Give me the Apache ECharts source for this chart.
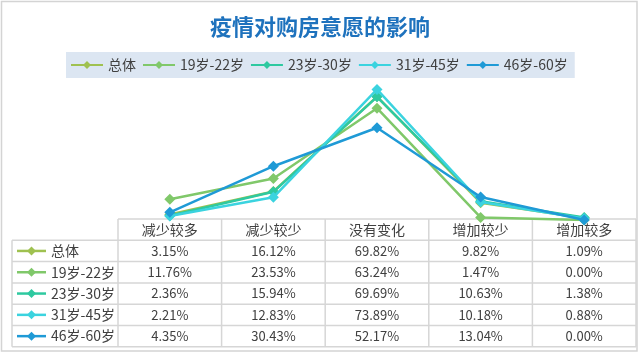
<!DOCTYPE html>
<html>
<head>
<meta charset="utf-8">
<script src="https://cdn.jsdelivr.net/npm/echarts@6/dist/echarts.min.js"></script>
<style>
html,body{margin:0;padding:0;background:#fff;}
#c{width:640px;height:363px;}
</style>
</head>
<body>
<div id="c"></div>
<script>
const titleText = '疫情对购房意愿的影响';
const categories = ['减少较多', '减少较少', '没有变化', '增加较少', '增加较多'];
const seriesNames = ['总体', '19岁-22岁', '23岁-30岁', '31岁-45岁', '46岁-60岁'];
const total = [3.15, 16.12, 69.82, 9.82, 1.09];
const age19to22 = [11.76, 23.53, 63.24, 1.47, 0.00];
const age23to30 = [2.36, 15.94, 69.69, 10.63, 1.38];
const age31to45 = [2.21, 12.83, 73.89, 10.18, 0.88];
const age46to60 = [4.35, 30.43, 52.17, 13.04, 0.00];
const seriesValues = [total, age19to22, age23to30, age31to45, age46to60];
const colors = ['#9fc150', '#80c86a', '#2ec9a0', '#3bd3df', '#1f9ad6'];

const FONT = '"Noto Sans CJK SC", "Noto Sans", sans-serif';
const chart = echarts.init(document.getElementById('c'), null, {renderer: 'canvas'});

const option = {
  animation: false,
  backgroundColor: '#ffffff',
  color: colors,
  title: {
    text: titleText,
    left: 'center',
    top: 11,
    textStyle: {color: '#1e72bd', fontSize: 22, fontWeight: 'bold', fontFamily: FONT}
  },
  legend: {
    data: seriesNames,
    left: 66,
    top: 52,
    backgroundColor: '#dce6f2',
    padding: [6, 7, 6, 4],
    itemWidth: 32,
    itemHeight: 10,
    itemGap: 6,
    textStyle: {color: '#404040', fontSize: 14, fontFamily: FONT}
  },
  grid: {left: 118, right: 4, top: 78.6, bottom: 143},
  xAxis: {
    type: 'category',
    data: categories,
    boundaryGap: true,
    show: false
  },
  yAxis: {
    type: 'value',
    min: 0,
    max: 80,
    show: false,
    splitLine: {show: false}
  },
  series: seriesNames.map((name, i) => ({
    name: name,
    type: 'line',
    data: seriesValues[i],
    symbol: 'diamond',
    symbolSize: 11,
    lineStyle: {width: 2.5, color: colors[i]},
    itemStyle: {color: colors[i]},
    z: 2 + i
  }))
};
chart.setOption(option);

// Data table built from the arrays, positioned by the category axis
const gridRect = chart.getModel().getComponent('grid').coordinateSystem.getRect();
const colW = gridRect.width / categories.length;
const tableLeft = 12;
const tableTop = 219;
const rowH = 21.3;
const tableRight = gridRect.x + gridRect.width;
const tableBottom = tableTop + rowH * (seriesNames.length + 1);
const lineColor = '#d6d6d6';
const els = [];

// frame
els.push({type: 'rect', shape: {x: 1.5, y: 1.5, width: 635.5, height: 349.5}, style: {fill: null, stroke: '#d4d4d4', lineWidth: 1.5}, silent: true, z: 0});

// horizontal lines
els.push({type: 'line', shape: {x1: gridRect.x, y1: tableTop, x2: tableRight, y2: tableTop}, style: {stroke: lineColor, lineWidth: 1.5}});
for (let r = 1; r <= seriesNames.length + 1; r++) {
  const y = tableTop + r * rowH;
  els.push({type: 'line', shape: {x1: tableLeft, y1: y, x2: tableRight, y2: y}, style: {stroke: lineColor, lineWidth: 1.5}});
}
// vertical lines
els.push({type: 'line', shape: {x1: tableLeft, y1: tableTop + rowH, x2: tableLeft, y2: tableBottom}, style: {stroke: lineColor, lineWidth: 1.5}});
for (let c = 0; c <= categories.length; c++) {
  const x = gridRect.x + c * colW;
  els.push({type: 'line', shape: {x1: x, y1: tableTop, x2: x, y2: tableBottom}, style: {stroke: lineColor, lineWidth: 1.5}});
}
// header
categories.forEach((cat, c) => {
  const cx = chart.convertToPixel({xAxisIndex: 0}, cat);
  els.push({type: 'text', x: cx, y: tableTop + rowH / 2, style: {text: cat, textAlign: 'center', textVerticalAlign: 'middle', fill: '#404040', font: '14px ' + FONT}});
});
// rows
seriesNames.forEach((name, i) => {
  const cy = tableTop + (i + 1) * rowH + rowH / 2;
  els.push({type: 'line', shape: {x1: 17, y1: cy, x2: 46, y2: cy}, style: {stroke: colors[i], lineWidth: 2.5}});
  els.push({type: 'polygon', shape: {points: [[31.5, cy - 4.5], [36, cy], [31.5, cy + 4.5], [27, cy]]}, style: {fill: colors[i]}});
  els.push({type: 'text', x: 51, y: cy, style: {text: name, textAlign: 'left', textVerticalAlign: 'middle', fill: '#404040', font: '14px ' + FONT}});
  seriesValues[i].forEach((v, c) => {
    const cx = chart.convertToPixel({xAxisIndex: 0}, categories[c]);
    els.push({type: 'text', x: cx, y: cy, style: {text: v.toFixed(2) + '%', textAlign: 'center', textVerticalAlign: 'middle', fill: '#404040', font: '13px ' + FONT}});
  });
});

chart.setOption({graphic: {elements: els.map(e => Object.assign({silent: true, z: e.z === undefined ? 1 : e.z}, e))}});
</script>
</body>
</html>
